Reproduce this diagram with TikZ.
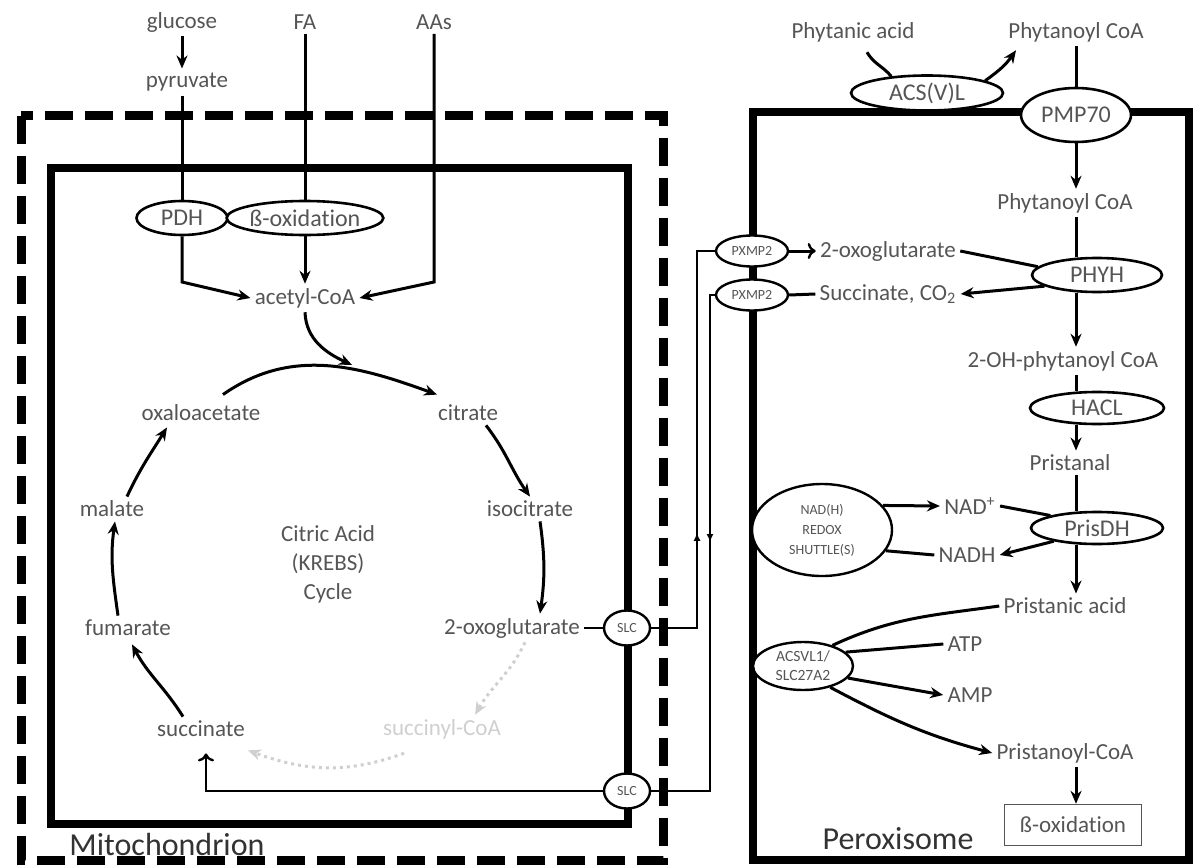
\documentclass[tikz,border=0pt]{standalone}
\usepackage{fontspec}
\setmainfont{Carlito}[Ligatures=NoCommon]
\usetikzlibrary{shapes.geometric}
\usetikzlibrary{decorations.markings}
\usetikzlibrary{arrows.meta}
\definecolor{ink}{HTML}{555555}
\definecolor{faint}{HTML}{CFCFCF}
\tikzset{>={Stealth[length=6.5pt,width=5.5pt]}}

\begin{document}
\begin{tikzpicture}[
     x=0.5pt,y=-0.5pt,   % one unit = one pixel of the sketch, y runs downwards
     lbl/.style={text=ink,font=\fontsize{11.5}{13}\selectfont,inner sep=2pt},
     big/.style={text=black!80,font=\fontsize{16}{18}\selectfont},
     enz/.style={ellipse,draw,fill=white,line width=1.3pt,inner sep=0pt,
                 text=ink,font=\fontsize{12}{14}\selectfont,
                 minimum width=#1,minimum height=17pt},
     enz/.default=40pt,
     chip/.style={ellipse,draw,fill=white,line width=1.2pt,inner sep=0pt,
                  text=ink,font=\fontsize{7}{8}\selectfont},
     shut/.style={chip,align=center,font=\fontsize{7}{10}\selectfont},
     flow/.style={line width=1.5pt},
     wire/.style={line width=0.85pt},
     memb/.style={line width=4pt},
     midarr/.style={postaction={decorate},
        decoration={markings,mark=at position #1 with {\arrow{Latex[length=4pt,width=3.5pt]}}}},
  ]
  \useasboundingbox (0,0) rectangle (1197,866);

  % membranes
  \draw[memb,line width=4.5pt,dash pattern=on 14pt off 6pt] (21,116) rectangle (663,860);
  \draw[memb] (51,168) rectangle (628,824);
  \draw[memb] (753,112) rectangle (1189,860);

  % mitochondrion
  \node[lbl] (glc) at (182,22) {glucose};
  \node[lbl] (pyr) at (187,82) {pyruvate};
  \node[lbl] (fa) at (305,22) {FA};
  \node[lbl] (aas) at (434,22) {AAs};
  \node[enz=45.5pt] (pdh) at (182,218) {PDH};
  \node[enz=77pt] (boxA) at (305,218) {ß-oxidation};
  \node[lbl] (acoa) at (305,298) {acetyl-CoA};
  \coordinate (knee) at (0,282);
  \coordinate (join) at (352,365);

  \node[lbl] (oaa) at (201,413) {oxaloacetate};
  \node[lbl] (cit) at (468,413) {citrate};
  \node[lbl] (icit) at (530,509) {isocitrate};
  \node[lbl] (ogl) at (512,628) {2-oxoglutarate};
  \node[lbl,text=faint] (scoa) at (442,729) {succinyl-CoA};
  \node[lbl] (suc) at (201,729) {succinate};
  \node[lbl] (fum) at (128,628) {fumarate};
  \node[lbl] (mal) at (112,509) {malate};
  \node[lbl,align=center,font=\fontsize{11.5}{14.5}\selectfont] (tca) at (328,564)
       {Citric Acid\\(KREBS)\\Cycle};
  \node[chip,minimum width=23pt,minimum height=17.5pt] (slcA) at (627,628) {SLC};
  \node[chip,minimum width=23pt,minimum height=17.5pt] (slcB) at (627,791) {SLC};
  \node[big] (mito) at (167,844) {Mitochondrion};
  \coordinate (railA) at (697,0);
  \coordinate (railB) at (710,0);

  % peroxisome
  \node[lbl] (phya) at (853,32) {Phytanic acid};
  \node[lbl] (phyc0) at (1076,32) {Phytanoyl CoA};
  \node[enz=76pt,minimum height=17.5pt] (acs) at (927,93) {ACS(V)L};
  \node[enz=55pt,minimum height=27pt] (pmp) at (1076,115) {PMP70};
  \node[lbl] (phyc) at (1065,203) {Phytanoyl CoA};
  \node[enz=65pt] (phyh) at (1097,275) {PHYH};
  \node[lbl] (ogx) at (888,251) {2-oxoglutarate};
  \node[lbl] (sucx) at (888,294) {Succinate, CO\textsubscript{2}};
  \node[chip,minimum width=36pt,minimum height=15.5pt] (pxa) at (752,251) {PXMP2};
  \node[chip,minimum width=36pt,minimum height=15.5pt] (pxb) at (752,295) {PXMP2};
  \node[lbl] (ohp) at (1063,361) {2-OH-phytanoyl CoA};
  \node[enz=67pt,minimum height=16pt] (hacl) at (1097,408) {HACL};
  \node[lbl] (pal) at (1070,463) {Pristanal};
  \node[enz=66pt,minimum height=16pt] (prdh) at (1097,528) {PrisDH};
  \node[lbl] (nad) at (970,506) {NAD\textsuperscript{+}};
  \node[lbl] (nadh) at (967,555) {NADH};
  \node[shut,minimum width=70pt,minimum height=46pt] (redox) at (822,530)
       {NAD(H)\\REDOX\\SHUTTLE(S)};
  \node[lbl] (pac) at (1065,606) {Pristanic acid};
  \node[shut,minimum width=50pt,minimum height=24pt,font=\fontsize{7.8}{9.5}\selectfont]
       (acsvl) at (803,666) {ACSVL1/\\SLC27A2};
  \node[lbl] (atp) at (965,644) {ATP};
  \node[lbl] (amp) at (970,695) {AMP};
  \node[lbl] (pcoa) at (1065,753) {Pristanoyl-CoA};
  \node[lbl,draw=ink,line width=0.7pt,minimum width=68.5pt,minimum height=20.5pt]
       (bob) at (1073,825) {ß-oxidation};
  \node[big] (perox) at (898,839) {Peroxisome};
  \coordinate (spine) at (1076,0);

  % feeding acetyl-CoA
  \draw[flow,->] (glc.south) -- (glc.south |- pyr.north);
  \draw[flow] (pyr.south -| pdh.north) -- (pdh.north);
  \draw[flow,->] (pdh.south) -- (pdh.south |- knee) -- (acoa.west);
  \draw[flow] (fa.south) -- (fa.south |- boxA.north);
  \draw[flow,->] (boxA.south) -- (acoa.north);
  \draw[flow,->] (aas.south) -- (aas.south |- knee) -- (acoa.east);

  % Krebs cycle
  \draw[flow,->] ([shift={(22,-6)}]oaa.north) to[out=35,in=160] ([shift={(-31,-6)}]cit.north);
  \draw[flow,->] (acoa.south) to[out=-88,in=155] (join);
  \draw[flow,->] ([shift={(18,0)}]cit.south) to[out=-52,in=125] (icit.north);
  \draw[flow,->] ([shift={(10,0)}]icit.south) to[out=-82,in=82] ([shift={(28,0)}]ogl.north);
  \draw[flow,faint,dotted,->] ([shift={(13,0)}]ogl.south) to[out=-115,in=60] ([shift={(33,0)}]scoa.north);
  \draw[flow,faint,dotted,->] ([shift={(-38,10)}]scoa.south) to[out=-160,in=-20] ([shift={(47,9)}]suc.south);
  \draw[flow,->] ([shift={(-18,0)}]suc.north) to[out=122,in=-62] ([shift={(4,4)}]fum.south);
  \draw[flow,->] ([shift={(-10,0)}]fum.north) to[out=98,in=-98] ([shift={(3,0)}]mal.south);
  \draw[flow,->] ([shift={(15,0)}]mal.north) to[out=65,in=-122] ([shift={(-34,2)}]oaa.south);

  % carriers between the organelles
  \draw[wire] (ogl.east) -- (slcA.west);
  \draw[wire,midarr=0.32] (slcA.east) -- (slcA.east -| railA) -- (railA |- pxa.west) -- (pxa.west);
  \draw[wire,midarr=0.45] (pxb.west) -- (pxb.west -| railB) -- (railB |- slcB.east) -- (slcB.east);
  \draw[wire,line width=1.1pt,-{To[length=4pt,width=8pt,line width=1.2pt]}]
       (slcB.west) -| ([shift={(5,12)}]suc.south);
  \draw[flow,-{To[length=4pt,width=8pt,line width=1.2pt]}] (pxa.east) -- (ogx.west);
  \draw[flow] (pxb.east) -- (sucx.west);

  % phytanic acid alpha-oxidation
  \draw[flow] ([shift={(14,6)}]phya.south) to[out=-60,in=130] (acs.155);
  \draw[flow,->] (acs.12) to[out=35,in=-125] ([shift={(12,4)}]phyc0.south west);
  \draw[flow] (phyc0.south) -- (pmp.north);
  \draw[flow,->] (pmp.south) -- (spine |- phyc.north);
  \draw[flow] (spine |- phyc.south) -- (spine |- phyh.north);
  \draw[flow,->] (spine |- phyh.south) -- (spine |- ohp.north);
  \draw[flow] (spine |- ohp.south) -- (spine |- hacl.north);
  \draw[flow,->] (spine |- hacl.south) -- (spine |- pal.north);
  \draw[flow] (spine |- pal.south) -- (spine |- prdh.north);
  \draw[flow,->] (spine |- prdh.south) -- (spine |- pac.north);
  \draw[flow,->] (spine |- pcoa.south) -- (spine |- bob.north);
  \draw[flow] (ogx.east) -- (phyh.172);
  \draw[flow,->] (phyh.192) -- (sucx.east);
  \draw[flow] (nad.east) -- (prdh.165);
  \draw[flow,->] (prdh.197) -- (nadh.east);
  \draw[flow,->] (redox.22) -- (nad.west);
  \draw[flow] (redox.-18) -- (nadh.west);
  \draw[flow] (acsvl.35) to[out=25,in=188] (pac.west);
  \draw[flow] (acsvl.18) -- (atp.west);
  \draw[flow,->] (acsvl.-15) -- (amp.west);
  \draw[flow,->] (acsvl.-38) to[out=-28,in=165] (pcoa.west);
\end{tikzpicture}
\end{document}
